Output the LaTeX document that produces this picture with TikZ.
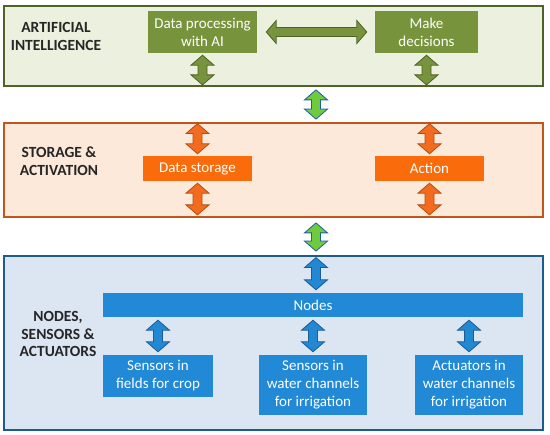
\documentclass[tikz,border=0pt]{standalone}
\usepackage{fontspec}
\setmainfont{Carlito}
\usetikzlibrary{calc}
\definecolor{gpanel}{HTML}{EBF1DE}
\definecolor{gborder}{HTML}{4F6228}
\definecolor{gbox}{HTML}{77933C}
\definecolor{mfill}{HTML}{6FCB3E}
\definecolor{mborder}{HTML}{1F5E9E}
\definecolor{opanel}{HTML}{FDE9D9}
\definecolor{oborder}{HTML}{C0561C}
\definecolor{obox}{HTML}{F96B0B}
\definecolor{oarrfill}{HTML}{F26B1E}
\definecolor{oarrdraw}{HTML}{B24E12}
\definecolor{bpanel}{HTML}{DCE6F2}
\definecolor{bborder}{HTML}{1F5A8C}
\definecolor{bbox}{HTML}{2289D6}
\definecolor{barrfill}{HTML}{2288D4}
\definecolor{barrdraw}{HTML}{1A5C94}
\tikzset{
  blockarrow/.style={line width=0.8pt, line join=miter, to path={
    ($(\tikztostart)!10pt!(\tikztotarget)$) coordinate (ba1)
    ($(\tikztotarget)!10pt!(\tikztostart)$) coordinate (ba2)
    (\tikztostart) -- ($(ba1)!11.5pt!90:(\tikztotarget)$) -- ($(ba1)!4.5pt!90:(\tikztotarget)$)
    -- ($(ba2)!4.5pt!-90:(\tikztostart)$) -- ($(ba2)!11.5pt!-90:(\tikztostart)$) -- (\tikztotarget)
    -- ($(ba2)!11.5pt!90:(\tikztostart)$) -- ($(ba2)!4.5pt!90:(\tikztostart)$)
    -- ($(ba1)!4.5pt!-90:(\tikztotarget)$) -- ($(ba1)!11.5pt!-90:(\tikztotarget)$) -- cycle}},
  garr/.style={blockarrow, fill=gbox, draw=gborder},
  marr/.style={blockarrow, fill=mfill, draw=mborder},
  oarr/.style={blockarrow, fill=oarrfill, draw=oarrdraw},
  barr/.style={blockarrow, fill=barrfill, draw=barrdraw},
  panel/.style={rectangle, line width=1.8pt, inner sep=0pt},
  box/.style={rectangle, inner sep=0pt, text=white, align=center,
    font=\fontsize{15}{18}\selectfont},
  lab/.style={align=center, inner sep=0pt, text=black!85,
    font=\fontsize{15.5}{17.8}\selectfont\bfseries},
}
\begin{document}
\begin{tikzpicture}[x=1pt,y=-1pt]
\useasboundingbox (0,0) rectangle (550,435);
% panels
\node[panel, fill=gpanel, draw=gborder, minimum width=539pt, minimum height=80pt] (p1) at (273.5,46) {};
\node[panel, fill=opanel, draw=oborder, minimum width=539pt, minimum height=94pt] (p2) at (273.5,170) {};
\node[panel, fill=bpanel, draw=bborder, minimum width=539pt, minimum height=174pt] (p3) at (273.5,343) {};
% labels
\node[lab] (l1) at (56,36.5) {ARTIFICIAL\\INTELLIGENCE};
\node[lab] (l2) at (59,161) {STORAGE \&\\ACTIVATION};
\node[lab] (l3) at (58,334) {NODES,\\SENSORS \&\\ACTUATORS};
% boxes
\node[box, fill=gbox, minimum width=109pt, minimum height=42pt] (dp) at (202.5,32) {Data processing\\with AI};
\node[box, fill=gbox, minimum width=103pt, minimum height=42pt] (md) at (426.5,32) {Make\\decisions};
\node[box, fill=obox, minimum width=109pt, minimum height=25pt] (ds) at (197.5,168.5) {Data storage};
\node[box, fill=obox, minimum width=109pt, minimum height=25pt] (ac) at (429.5,168.5) {Action};
\node[box, fill=bbox, minimum width=420pt, minimum height=24pt] (nd) at (313,305) {Nodes};
\node[box, fill=bbox, minimum width=110pt, minimum height=42pt] (s1) at (158,376) {Sensors in\\fields for crop};
\node[box, fill=bbox, minimum width=108pt, minimum height=60pt] (s2) at (313,385) {Sensors in\\water channels\\for irrigation};
\node[box, fill=bbox, minimum width=108pt, minimum height=60pt] (a3) at (469,385) {Actuators in\\water channels\\for irrigation};
\coordinate (c1) at (316,0);
% top panel arrows
\draw[garr] ($(dp.east)+(9,0)$) to ($(md.west)+(-8,0)$);
\draw[garr] ($(dp.south)+(0,2)$) to ($(p1.south -| dp.south)+(0,-2)$);
\draw[garr] ($(md.south)+(0,2)$) to ($(p1.south -| md.south)+(0,-2)$);
% between panels
\draw[marr] ($(p1.south -| c1)+(0,3)$) to ($(p2.north -| c1)+(0,-3)$);
\draw[marr] ($(p2.south -| c1)+(0,5)$) to ($(p3.north -| c1)+(0,-4)$);
% storage panel arrows
\draw[oarr] ($(p2.north -| ds.north)+(0,1.5)$) to ($(ds.north)+(0,-2)$);
\draw[oarr] ($(ds.south)+(0,2)$) to ($(p2.south -| ds.south)+(0,-3)$);
\draw[oarr] ($(p2.north -| ac.north)+(0,1.5)$) to ($(ac.north)+(0,-2)$);
\draw[oarr] ($(ac.south)+(0,2)$) to ($(p2.south -| ac.south)+(0,-3)$);
% nodes panel arrows
\draw[barr] ($(p3.north -| c1)+(0,2.5)$) to ($(nd.north -| c1)+(0,-3)$);
\draw[barr] ($(nd.south -| s1.north)+(0,3)$) to ($(s1.north)+(0,-3)$);
\draw[barr] ($(nd.south -| s2.north)+(0,3)$) to ($(s2.north)+(0,-3)$);
\draw[barr] ($(nd.south -| a3.north)+(0,3)$) to ($(a3.north)+(0,-3)$);
\end{tikzpicture}
\end{document}
